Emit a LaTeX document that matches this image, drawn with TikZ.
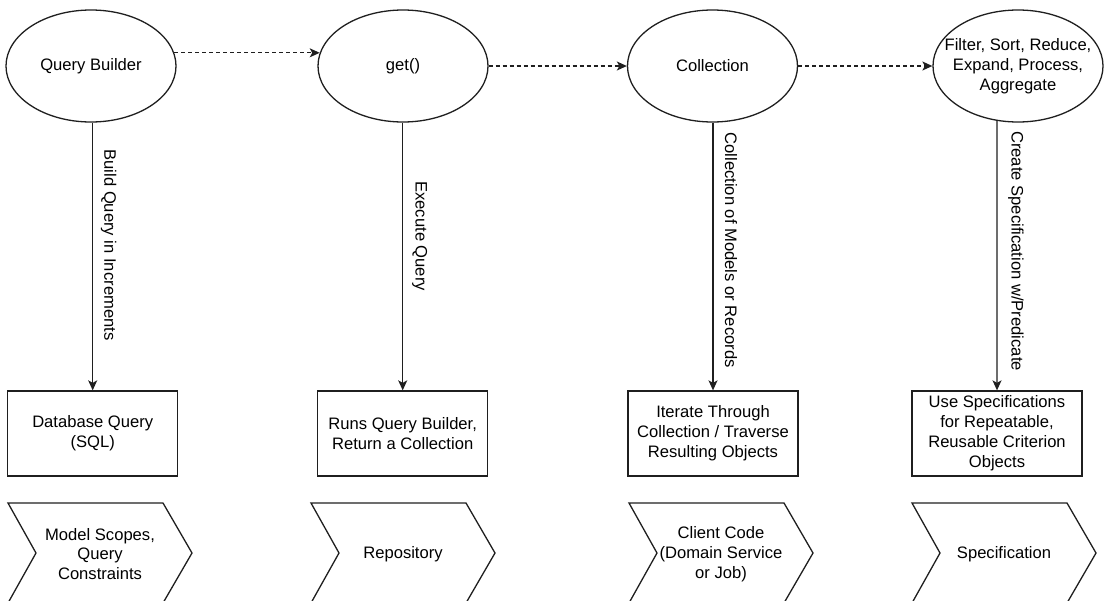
\documentclass[tikz,border=0pt]{standalone}
\usepackage{fontspec}
\setmainfont{Liberation Sans}
\usetikzlibrary{shapes.geometric,arrows.meta}
\begin{document}
\begin{tikzpicture}[x=1pt,y=-1pt,
  every node/.style={font=\fontsize{16.6}{19.9}\selectfont, text=black, align=center, inner sep=0pt},
  line/.style={draw=black!88, line width=1.3pt},
  oval/.style={line, ellipse, minimum width=170pt, minimum height=112pt},
  box/.style={line, rectangle, minimum width=170pt, minimum height=85pt},
  flow/.style={line, -{Stealth[length=10pt,width=9pt,inset=2.5pt]}},
  dashflow/.style={flow, dash pattern=on 4pt off 3pt},
  vlabel/.style={rotate=-90},
  stepshape/.style={line, line join=miter}
]
\useasboundingbox (0,0) rectangle (1107,600);
\clip (0,0) rectangle (1107,600);

% ellipses
\node[oval] (e1) at (91,66) {};
\node (t1) at (e1) {Query Builder};
\node[oval] (e2) at (403,66) {};
\node (t2) at (e2) {get()};
\node[oval] (e3) at (712.5,66) {};
\node (t3) at (e3) {Collection};
\node[oval] (e4) at (1018,66) {};
\node (t4) at (e4) {Filter, Sort, Reduce,\\Expand, Process,\\Aggregate};

% boxes
\node[box] (b1) at (92.7,433.5) {Database Query\\(SQL)};
\node[box] (b2) at (402.7,433.5) {Runs Query Builder,\\Return a Collection};
\node[box] (b3) at (713,433.5) {Iterate Through\\Collection / Traverse\\Resulting Objects};
\node[box] (b4) at (997,433.5) {Use Specifications\\for Repeatable,\\Reusable Criterion\\Objects};

% dashed flow
\draw[dashflow] (e1.9) -- (e2.171);
\draw[dashflow] (e2.east) -- (e3.west);
\draw[dashflow] (e3.east) -- (e4.west);

% vertical arrows with labels
\draw[flow] (e1.south -| b1.north) -- node[pos=0.457, xshift=16pt, vlabel] (l1) {Build Query in Increments} (b1.north);
\draw[flow] (e2.south -| b2.north) -- node[pos=0.424, xshift=17pt, vlabel] (l2) {Execute Query} (b2.north);
\draw[flow] (e3.south -| b3.north) -- node[pos=0.476, xshift=18pt, vlabel] (l3) {Collection of Models or Records} (b3.north);
\draw[flow] (e4.249) -- node[pos=0.483, xshift=19pt, vlabel] (l4) {Create Specification w/Predicate} (b4.north);

% chevrons
\draw[stepshape] (8,503) -- ++(155,0) -- ++(29,50) -- ++(-29,50) -- ++(-155,0) -- ++(28,-50) -- cycle;
\node (s1) at (100,554) {Model Scopes,\\Query\\Constraints};
\draw[stepshape] (311,503) -- ++(155,0) -- ++(29,50) -- ++(-29,50) -- ++(-155,0) -- ++(28,-50) -- cycle;
\node (s2) at (403,554) {Repository};
\draw[stepshape] (629,503) -- ++(155,0) -- ++(29,50) -- ++(-29,50) -- ++(-155,0) -- ++(28,-50) -- cycle;
\node (s3) at (721,554) {Client Code\\(Domain Service\\or Job)};
\draw[stepshape] (912,503) -- ++(155,0) -- ++(29,50) -- ++(-29,50) -- ++(-155,0) -- ++(28,-50) -- cycle;
\node (s4) at (1004,554) {Specification};
\end{tikzpicture}
\end{document}
